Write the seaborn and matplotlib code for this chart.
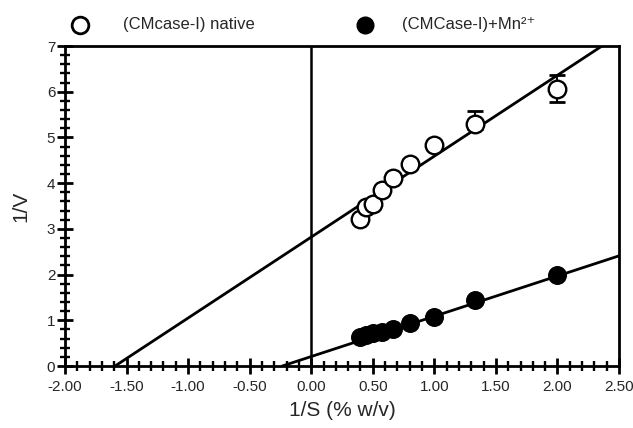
import numpy as np
import pandas as pd
import matplotlib
matplotlib.use("Agg")
import matplotlib.pyplot as plt
import seaborn as sns
from matplotlib.lines import Line2D
from matplotlib.ticker import MultipleLocator, FormatStrFormatter

# ---- data (Lineweaver-Burk) ----
inv_s = [0.40, 0.444, 0.50, 0.571, 0.667, 0.80, 1.00, 1.333, 2.00]
inv_v_native = [3.22, 3.48, 3.55, 3.86, 4.12, 4.42, 4.83, 5.30, 6.05]
inv_v_mn = [0.63, 0.68, 0.72, 0.75, 0.82, 0.95, 1.08, 1.45, 2.00]
err_native_lo = [0, 0, 0, 0, 0, 0, 0, 0.12, 0.28]
err_native_hi = [0, 0, 0, 0, 0, 0, 0, 0.27, 0.32]

# fitted lines: slope, intercept
fit_native = (1.77, 2.82)
fit_mn = (0.881, 0.207)

label_native = "(CMcase-I) native"
label_mn = "(CMCase-I)+Mn²⁺"

sns.set_style("ticks")
plt.rcParams['font.family'] = ['Liberation Sans', 'DejaVu Sans']

fig = plt.figure(figsize=(6.33, 4.28), dpi=100)
ax = fig.add_axes([65 / 633, 1 - 366 / 428, (619 - 65) / 633, (366 - 46) / 428])

df = pd.DataFrame({"x": inv_s, "native": inv_v_native, "mn": inv_v_mn})

# regression lines, drawn from the x-intercept to the right edge
for slope, icpt in [fit_native, fit_mn]:
    x0 = -icpt / slope
    xs = np.array([x0, 2.5])
    ax.plot(xs, slope * xs + icpt, color="black", lw=2.0, zorder=2)

ax.axvline(0, color="black", lw=1.8, zorder=1)

ax.errorbar(inv_s, inv_v_native, yerr=[err_native_lo, err_native_hi], fmt="none",
            ecolor="black", elinewidth=1.4, capsize=6, capthick=2.0, zorder=2)

sns.scatterplot(data=df, x="x", y="native", ax=ax, marker="o", s=160,
                facecolor="white", edgecolor="black", linewidth=1.7, zorder=3)
sns.scatterplot(data=df, x="x", y="mn", ax=ax, marker="o", s=160,
                color="black", edgecolor="black", linewidth=1, zorder=3)

ax.set_xlim(-2.0, 2.5)
ax.set_ylim(0, 7)
ax.xaxis.set_major_locator(MultipleLocator(0.5))
ax.xaxis.set_minor_locator(MultipleLocator(0.1))
ax.yaxis.set_major_locator(MultipleLocator(1))
ax.yaxis.set_minor_locator(MultipleLocator(0.2))
ax.xaxis.set_major_formatter(FormatStrFormatter("%.2f"))

ax.tick_params(which="major", direction="inout", length=12, width=2.0,
               labelsize=11, color="black", pad=4)
ax.tick_params(which="minor", direction="inout", length=7, width=1.7, color="black")
ax.tick_params(axis="y", which="both", pad=1)

for sp in ax.spines.values():
    sp.set_visible(True)
    sp.set_linewidth(2.0)
    sp.set_color("black")

ax.set_xlabel("1/S (% w/v)", fontsize=15, labelpad=5)
ax.set_ylabel("1/V", fontsize=15, labelpad=12)

# legend row above the axes
legend_y = 1 - 25 / 428
fig.add_artist(Line2D([80 / 633], [legend_y], transform=fig.transFigure, marker="o",
                      ls="none", markersize=12, markerfacecolor="white",
                      markeredgecolor="black", markeredgewidth=2.0))
fig.add_artist(Line2D([365 / 633], [legend_y], transform=fig.transFigure, marker="o",
                      ls="none", markersize=12, markerfacecolor="black",
                      markeredgecolor="black"))
fig.text(123 / 633, legend_y, label_native, fontsize=12, va="center", ha="left")
fig.text(402 / 633, legend_y, label_mn, fontsize=12, va="center", ha="left")

fig.savefig("out.png", dpi=100)
